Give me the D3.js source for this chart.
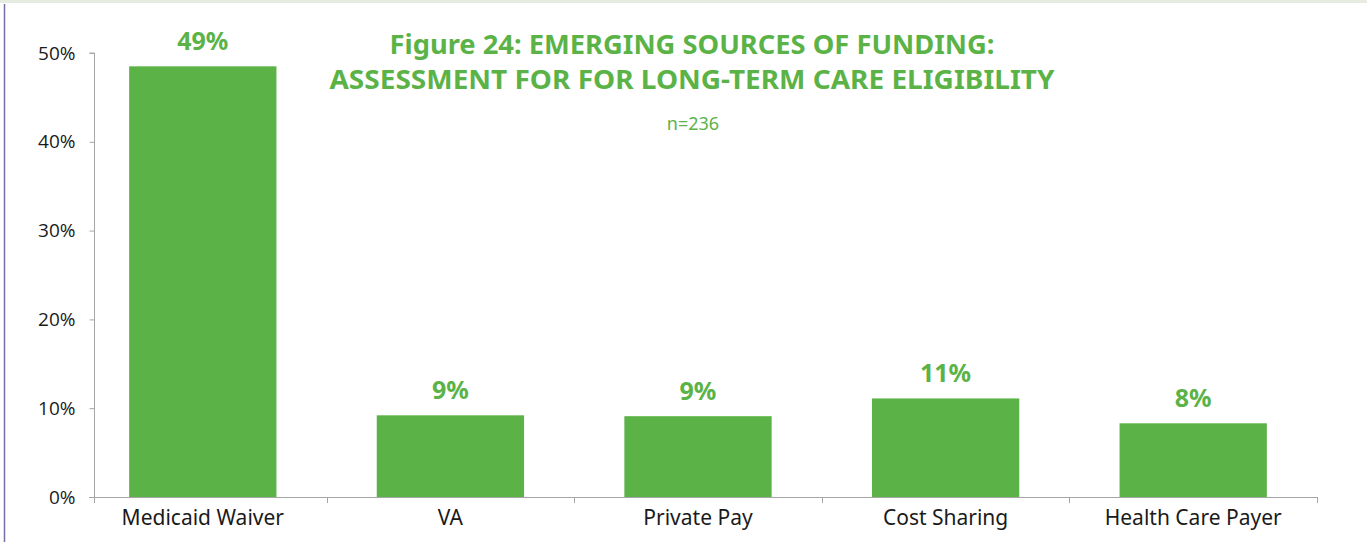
<!DOCTYPE html>
<html>
<head>
<meta charset="utf-8">
<script src="https://cdn.jsdelivr.net/npm/d3@7"></script>
<style>
  html, body { margin: 0; padding: 0; background: #ffffff; }
  svg { display: block; }
</style>
</head>
<body>
<svg id="chart" width="1367" height="542"></svg>
<script>
const categories = ["Medicaid Waiver", "VA", "Private Pay", "Cost Sharing", "Health Care Payer"];
const values = [48.5, 9.2, 9.1, 11.1, 8.3];
const valueLabels = ["49%", "9%", "9%", "11%", "8%"];
const yTicks = [0, 10, 20, 30, 40, 50];
const titleLines = ["Figure 24: EMERGING SOURCES OF FUNDING:", "ASSESSMENT FOR FOR LONG-TERM CARE ELIGIBILITY"];
const subtitle = "n=236";

const green = "#5bb347";
const axisColor = "#a6a6a6";
const svg = d3.select("#chart");

// frame
svg.append("rect").attr("x", 0).attr("y", 0).attr("width", 1367).attr("height", 3).attr("fill", "#e6ece2");
svg.append("line").attr("x1", 4.5).attr("x2", 4.5).attr("y1", 4).attr("y2", 542)
  .attr("stroke", "#7c6ca6").attr("stroke-width", 1.5);

const yAxisX = 94;
const y = d3.scaleLinear().domain([0, 50]).range([497, 53]);
const x = d3.scaleBand().domain(categories).range([79, 1317]).paddingInner(0.405).paddingOuter(0.2025);

// bars
svg.append("g").selectAll("rect").data(values).join("rect")
  .attr("x", (d, i) => x(categories[i]))
  .attr("width", x.bandwidth())
  .attr("y", d => y(d))
  .attr("height", d => y(0) - y(d))
  .attr("fill", green);

// y axis
const yAxis = d3.axisLeft(y).tickValues(yTicks).tickSize(5).tickPadding(14)
  .tickFormat(d => d + "%");
const gy = svg.append("g").attr("transform", `translate(${yAxisX + 0.5},0)`).call(yAxis);
gy.select(".domain").attr("stroke", axisColor).attr("d", `M-5,${y(50)}H0V${y(0)}`);
gy.selectAll(".tick line").attr("stroke", axisColor);
gy.selectAll(".tick text").attr("fill", "#1a1a1a")
  .style("font-family", "'Open Sans', 'Noto Sans', sans-serif").style("font-size", "19px");

// x axis line
const step = x.step();
const x0 = x.range()[0];
const boundaries = [yAxisX].concat(d3.range(1, categories.length + 1).map(i => x0 + i * step));
const gx = svg.append("g");
gx.append("line").attr("x1", yAxisX - 5).attr("x2", x.range()[1]).attr("y1", y(0) + 0.5).attr("y2", y(0) + 0.5)
  .attr("stroke", axisColor);
gx.selectAll("line.tk").data(boundaries).join("line").attr("class", "tk")
  .attr("x1", d => Math.round(d) + 0.5).attr("x2", d => Math.round(d) + 0.5)
  .attr("y1", y(0)).attr("y2", y(0) + 6).attr("stroke", axisColor);
gx.selectAll("text").data(categories).join("text")
  .attr("x", d => x(d) + x.bandwidth() / 2)
  .attr("y", 525)
  .attr("text-anchor", "middle")
  .attr("fill", "#1a1a1a")
  .style("font-family", "'Noto Sans', 'Open Sans', sans-serif").style("font-size", "21px")
  .text(d => d);

// value labels
svg.append("g").selectAll("text").data(values).join("text")
  .attr("x", (d, i) => x(categories[i]) + x.bandwidth() / 2)
  .attr("y", d => y(d) - 16)
  .attr("text-anchor", "middle")
  .attr("fill", green)
  .style("font-family", "'Noto Sans', sans-serif").style("font-weight", "bold").style("font-size", "25px")
  .text((d, i) => valueLabels[i]);

// title
const titleWidths = [605, 725];
svg.append("g").selectAll("text").data(titleLines).join("text")
  .attr("x", 692)
  .attr("y", (d, i) => 54 + i * 35)
  .attr("text-anchor", "middle")
  .attr("fill", green)
  .attr("textLength", (d, i) => titleWidths[i])
  .attr("lengthAdjust", "spacingAndGlyphs")
  .style("font-family", "'Noto Sans', sans-serif").style("font-weight", "bold").style("font-size", "26px")
  .text(d => d);

svg.append("text").attr("x", 693).attr("y", 130).attr("text-anchor", "middle")
  .attr("fill", green)
  .style("font-family", "'Noto Sans', sans-serif").style("font-size", "18px")
  .text(subtitle);
</script>
</body>
</html>
